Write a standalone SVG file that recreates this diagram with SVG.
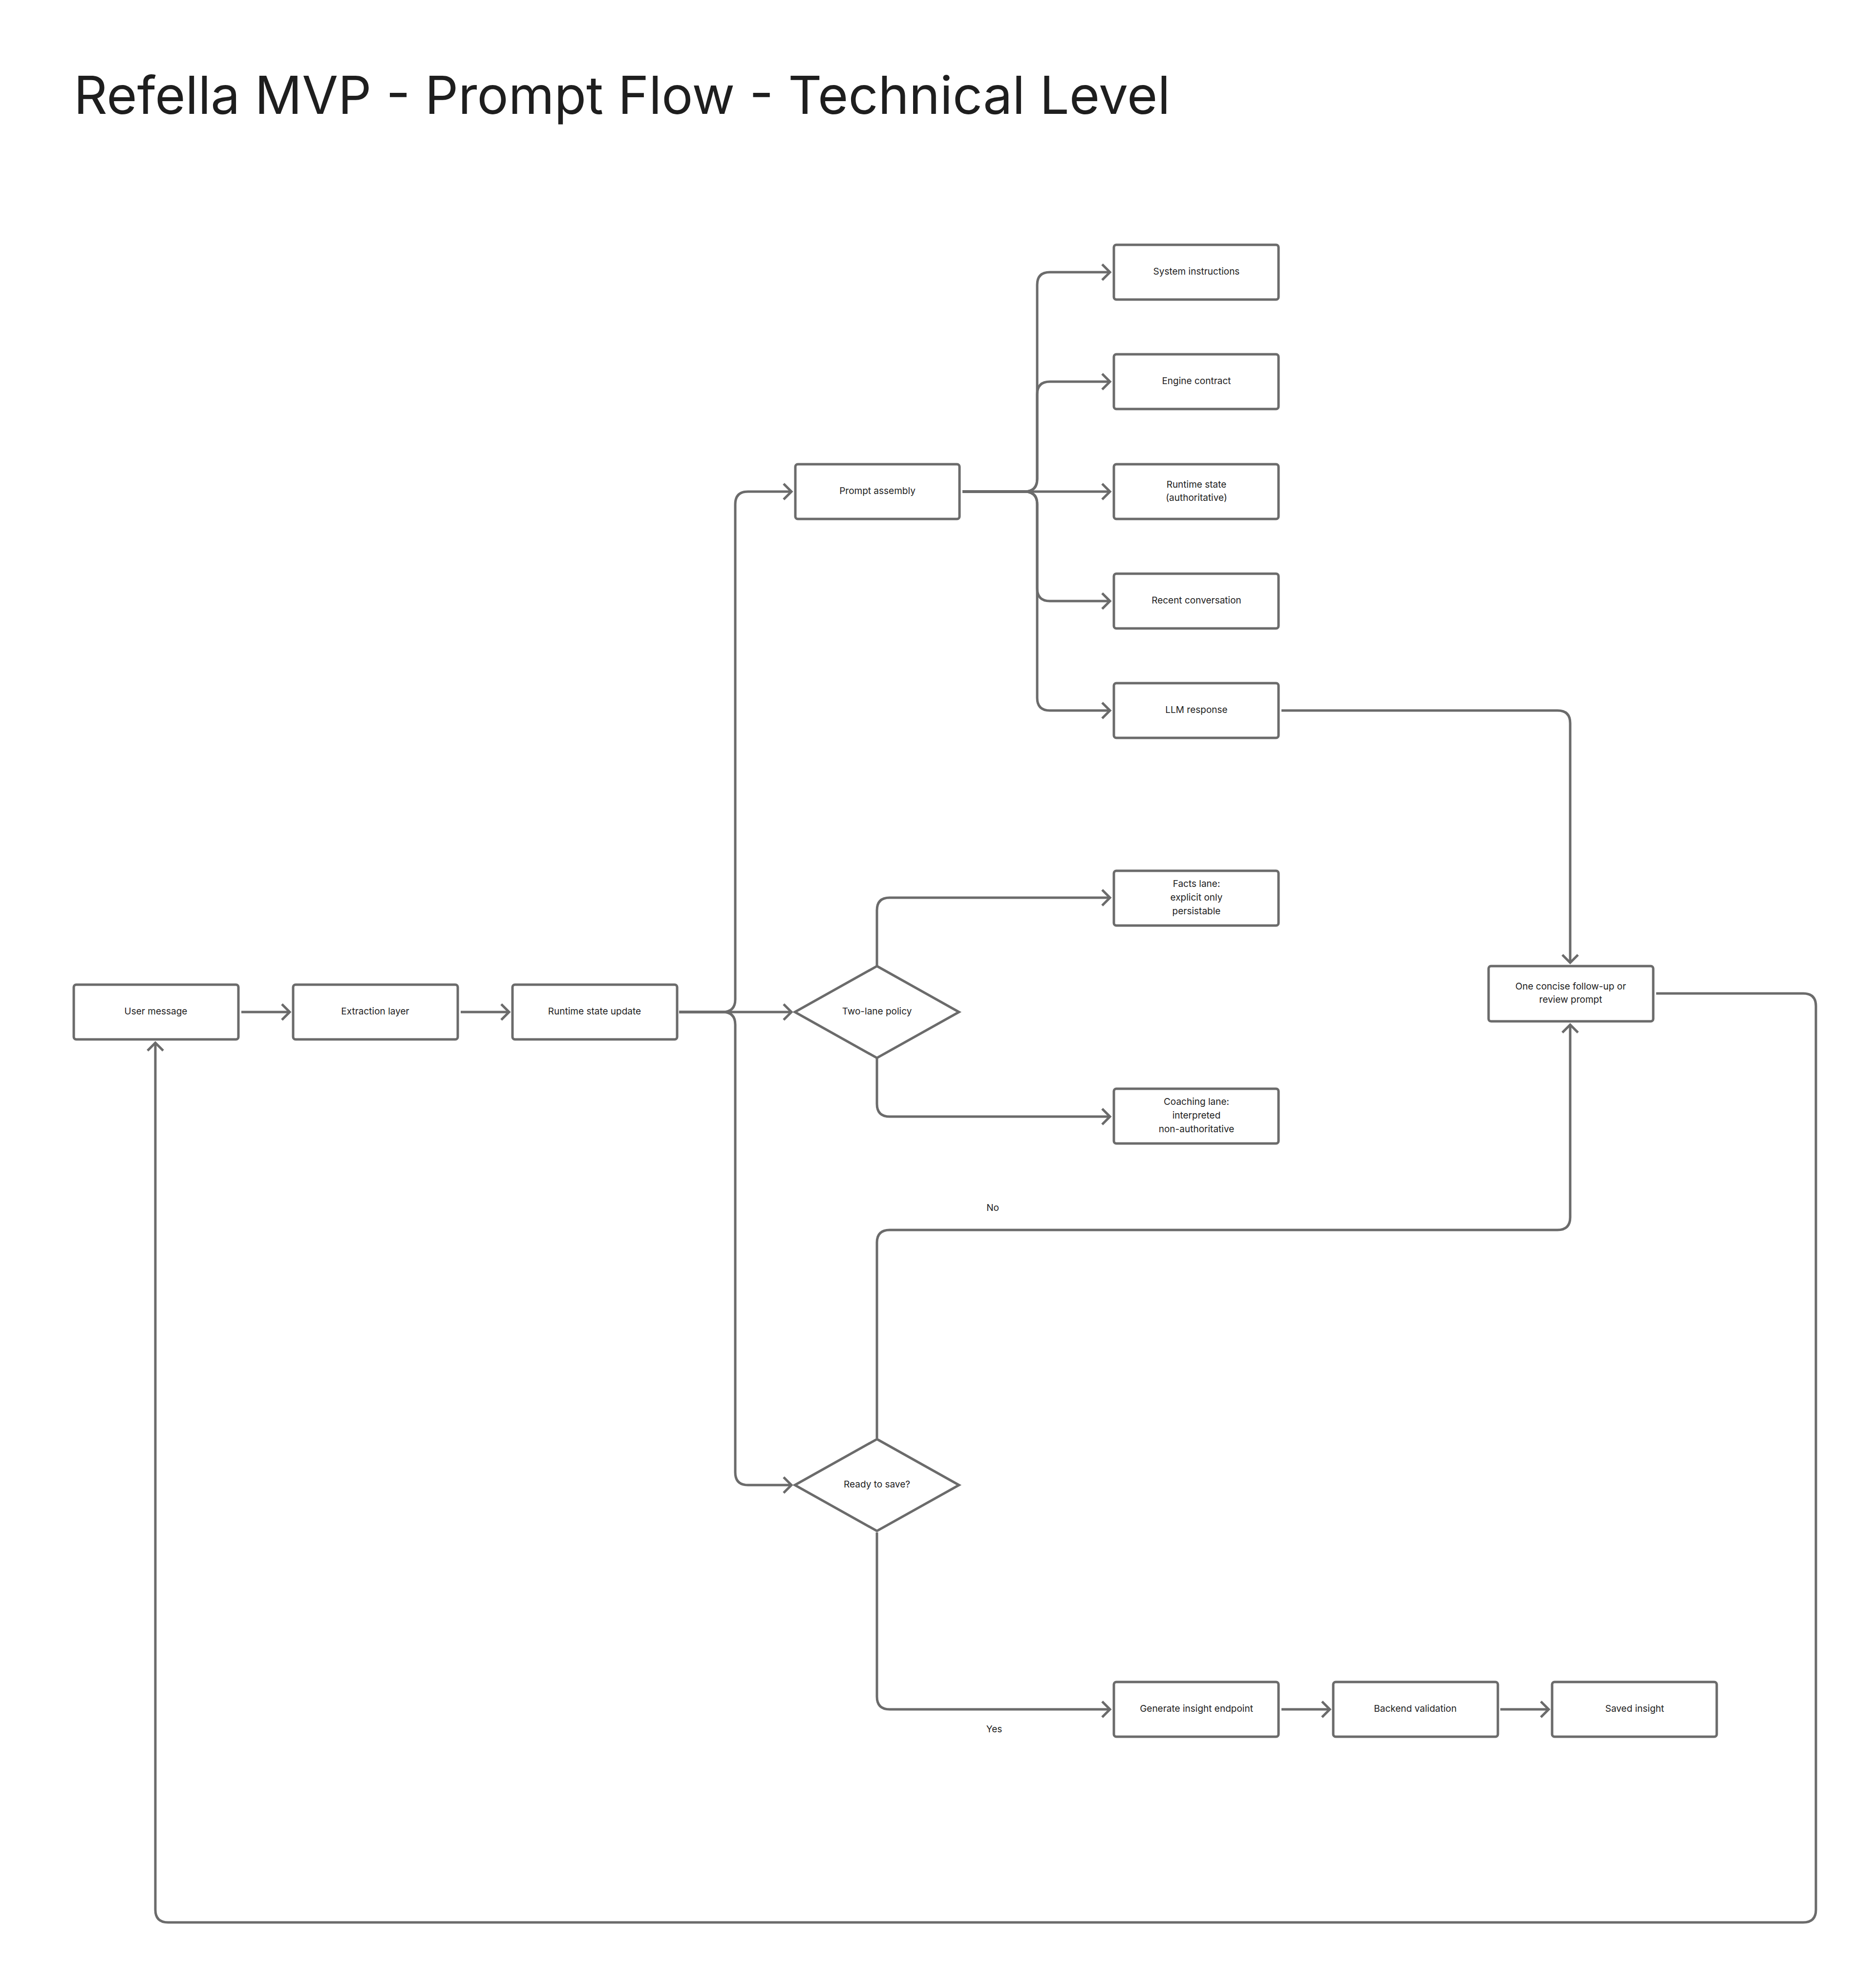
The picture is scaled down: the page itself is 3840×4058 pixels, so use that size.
<svg xmlns="http://www.w3.org/2000/svg" width="3840" height="4058" viewBox="0 0 3840 4058">
<style>
.n{fill:#fff;stroke:#6b6b6b;stroke-width:5}
.t{font-family:Inter,"Liberation Sans",sans-serif;font-size:19px;fill:#222;text-anchor:middle;dominant-baseline:middle}
.c{fill:none;stroke:#6b6b6b;stroke-width:5;marker-end:url(#a)}
</style>
<defs><marker id="a" markerUnits="userSpaceOnUse" markerWidth="30" markerHeight="40" refX="22" refY="20" orient="auto"><path d="M6 4 L22 20 L6 36" fill="none" stroke="#6b6b6b" stroke-width="5"/></marker></defs>
<rect width="3840" height="4058" fill="#fff"/>
<text x="151" y="233" font-family="Inter,'Liberation Sans',sans-serif" font-size="107" fill="#1e1e1e">Refella MVP - Prompt Flow - Technical Level</text>
<g id="connectors">
<path class="c" d="M494 2071H593"/>
<path class="c" d="M943 2071H1042"/>
<path class="c" d="M1390 2071H1479Q1505 2071 1505 2045V1032Q1505 1006 1531 1006H1620"/>
<path class="c" d="M1390 2071H1620"/>
<path class="c" d="M1390 2071H1479Q1505 2071 1505 2097V3013Q1505 3039 1531 3039H1620"/>
<path class="c" d="M1970 1006H2097Q2123 1006 2123 980V583Q2123 557 2149 557H2272"/>
<path class="c" d="M1970 1006H2097Q2123 1006 2123 980V807Q2123 781 2149 781H2272"/>
<path class="c" d="M1970 1006H2272"/>
<path class="c" d="M1970 1006H2097Q2123 1006 2123 1032V1204Q2123 1230 2149 1230H2272"/>
<path class="c" d="M1970 1006H2097Q2123 1006 2123 1032V1428Q2123 1454 2149 1454H2272"/>
<path class="c" d="M2623 1454H3188Q3214 1454 3214 1480V1970"/>
<path class="c" d="M1795 1977V1863Q1795 1837 1821 1837H2272"/>
<path class="c" d="M1795 2165V2259Q1795 2285 1821 2285H2272"/>
<path class="c" d="M1795 2943V2543Q1795 2517 1821 2517H3188Q3214 2517 3214 2491V2097"/>
<path class="c" d="M1795 3136V3472Q1795 3498 1821 3498H2272"/>
<path class="c" d="M2623 3498H2722"/>
<path class="c" d="M3071 3498H3170"/>
<path class="c" d="M3390 2033H3691Q3717 2033 3717 2059V3908Q3717 3934 3691 3934H344Q318 3934 318 3908V2134"/>
<text class="t" x="2032" y="2473">No</text>
<text class="t" x="2035" y="3540">Yes</text>
</g>
<g id="user"><rect class="n" x="151" y="2015" width="337" height="112" rx="5"/><text class="t" x="319" y="2071">User message</text></g>
<g id="extract"><rect class="n" x="600" y="2015" width="337" height="112" rx="5"/><text class="t" x="768" y="2071">Extraction layer</text></g>
<g id="rsu"><rect class="n" x="1049" y="2015" width="337" height="112" rx="5"/><text class="t" x="1217" y="2071">Runtime state update</text></g>
<g id="pa"><rect class="n" x="1628" y="950" width="336" height="112" rx="5"/><text class="t" x="1796" y="1006">Prompt assembly</text></g>
<g id="si"><rect class="n" x="2280" y="501" width="337" height="112" rx="5"/><text class="t" x="2449" y="557">System instructions</text></g>
<g id="ec"><rect class="n" x="2280" y="725" width="337" height="112" rx="5"/><text class="t" x="2449" y="781">Engine contract</text></g>
<g id="rs"><rect class="n" x="2280" y="950" width="337" height="112" rx="5"/><text class="t" x="2449" y="993">Runtime state</text><text class="t" x="2449" y="1020">(authoritative)</text></g>
<g id="rc"><rect class="n" x="2280" y="1174" width="337" height="112" rx="5"/><text class="t" x="2449" y="1230">Recent conversation</text></g>
<g id="llm"><rect class="n" x="2280" y="1398" width="337" height="112" rx="5"/><text class="t" x="2449" y="1454">LLM response</text></g>
<g id="tl"><path class="n" d="M1795 1977L1963 2071L1795 2165L1627 2071Z"/><text class="t" x="1795" y="2071">Two-lane policy</text></g>
<g id="facts"><rect class="n" x="2280" y="1782" width="337" height="112" rx="5"/><text class="t" x="2449" y="1810">Facts lane:</text><text class="t" x="2449" y="1838">explicit only</text><text class="t" x="2449" y="1866">persistable</text></g>
<g id="coach"><rect class="n" x="2280" y="2228" width="337" height="112" rx="5"/><text class="t" x="2449" y="2256">Coaching lane:</text><text class="t" x="2449" y="2284">interpreted</text><text class="t" x="2449" y="2312">non-authoritative</text></g>
<g id="one"><rect class="n" x="3047" y="1977" width="337" height="113" rx="5"/><text class="t" x="3215" y="2020">One concise follow-up or</text><text class="t" x="3215" y="2047">review prompt</text></g>
<g id="ready"><path class="n" d="M1795 2945L1963 3039L1795 3133L1627 3039Z"/><text class="t" x="1795" y="3039">Ready to save?</text></g>
<g id="gen"><rect class="n" x="2280" y="3442" width="337" height="112" rx="5"/><text class="t" x="2449" y="3498">Generate insight endpoint</text></g>
<g id="bv"><rect class="n" x="2729" y="3442" width="337" height="112" rx="5"/><text class="t" x="2897" y="3498">Backend validation</text></g>
<g id="saved"><rect class="n" x="3177" y="3442" width="337" height="112" rx="5"/><text class="t" x="3346" y="3498">Saved insight</text></g>
</svg>
